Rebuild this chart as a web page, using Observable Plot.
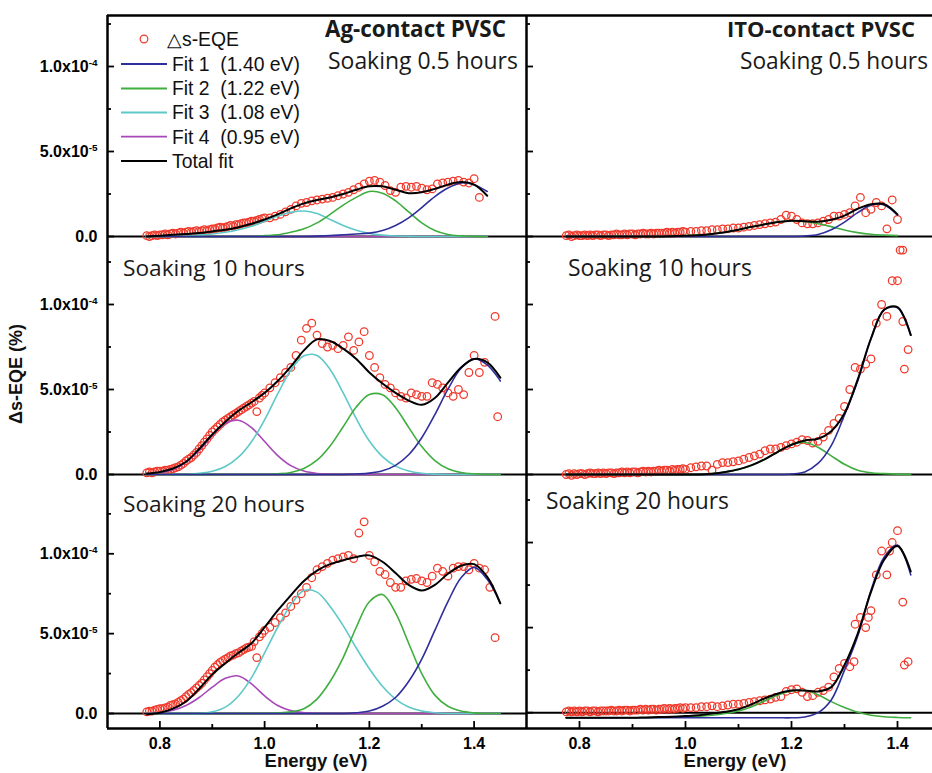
<!DOCTYPE html>
<html>
<head>
<meta charset="utf-8">
<script src="https://cdn.jsdelivr.net/npm/d3@7"></script>
<script src="https://cdn.jsdelivr.net/npm/@observablehq/plot@0.6"></script>
<style>
html, body { margin: 0; padding: 0; background: #fff; }
#chart { position: relative; width: 932px; height: 773px; overflow: hidden; background: #fff; }
#chart svg { position: absolute; overflow: visible; }
</style>
</head>
<body>
<div id="chart"></div>
<script>
// ---------------- DATA (values in units of 1e-6 %) ----------------
const UNIT = 1e-6;

// energy grid of the measured Δs-EQE points (eV)
const energies = [
  0.775,0.78,0.785,0.79,0.795,0.8,
  0.805,0.81,0.815,0.82,0.825,0.83,0.835,0.84,0.845,0.85,
  0.855,0.86,0.865,0.87,0.875,0.88,0.885,0.89,0.895,0.9,
  0.905,0.91,0.915,0.92,0.925,0.93,0.935,0.94,0.945,0.95,
  0.955,0.96,0.965,0.97,0.975,0.98,0.985,0.99,0.995,1.0,
  1.01,1.02,1.03,1.04,1.05,1.06,1.07,1.08,1.09,1.1,
  1.11,1.12,1.13,1.14,1.15,1.16,1.17,1.18,1.19,1.2,
  1.21,1.22,1.23,1.24,1.25,1.26,1.27,1.28,1.29,1.3,
  1.31,1.32,1.33,1.34,1.35,1.36,1.37,1.38,1.39,1.4,
  1.41,1.42,1.43,1.44,1.445
];

const agSoak05 = [
  0.5,0,0.5,1,0.5,1,
  1,1.5,1,1.5,2,1.5,2,2.5,2,2.5,
  3,2.5,3,3.5,3,3.5,4,3.5,4,4.5,
  4.5,5,5.5,5,5.5,6,6.5,6,7,7,
  7.5,8,8,8.5,9,9,9.5,10,10.5,11,
  11,12,13,14.5,16,18,19.5,20,21,21.5,
  22,22.5,23,24,25,26,27.5,29,31,32.5,
  33,32,30,27,26,29,29.5,29,29.5,28.5,
  27.5,28,31,31.5,32,32.5,33,32,31.5,34,
  23,null,null,null,null
];
const agSoak10 = [
  1,1.5,1,1.5,2,2,
  2,2.5,2.5,3,3.5,4,4.5,5.5,6.5,8,
  9,10,11.5,13,15,17,19,21,23,25,
  26.5,28,29.5,31,32,33,34,35,36,37,
  38,39,40,41,42,43,37,45,46.5,48,
  51,54,57,60,63,70,79,86,89,82,
  77,75,76,74,76,81,73,78,84,70,
  63,57,53,51,48,46,45,48,47,46,
  46,54,53,51,48,46,50,47,60,70,
  60,66,null,93,34
];
const agSoak20 = [
  1,1.5,1.5,2,2.5,3,
  3,3.5,4,5,5.5,6,7,8,9,10.5,
  12,13,14.5,16,17.5,19,21,23,25,27,
  29,30.5,32,33,34,35,36,36.5,37.5,38,
  39,40,41,41.5,42,45,35,48,50,52,
  54,57,60,63,67,71,75,79,85,90,
  92,94,96,97,98,99,97,113,120,99,
  95,89,87,82,79,79,83,84,84.5,83,
  82,86,91,89,86,91,92,92,90,94,
  91,90,79,47.5,null
];
const itoSoak05 = [
  0.5,1,0,0.5,1,0.5,
  0.5,1,0.5,1,0.5,1,1,0.5,1,1,
  0.5,1,1,1.5,1,1,1.5,1,1.5,1.5,
  1,1.5,1.5,2,1.5,1.5,2,1.5,2,2,
  2,2,2.5,2,2.5,2,2.5,2.5,3,2.5,
  3,3,3.5,3.5,4,4,4.5,4.5,5,5,
  5.5,6,6.5,7,7.5,8,8.5,10,12.5,12,
  10,8,7.5,7.5,8,9,10,12,12,13,
  14,18,23,14,16,20,18,4.5,21.5,10,
  -8,null,null,null,null
];
const itoSoak10 = [
  0,0.5,-0.5,0.5,0,0.5,
  0.5,0,0.5,1,0.5,0.5,1,0.5,1,0.5,
  1,1,0.5,1,1,1.5,1,1.5,1,1.5,
  1.5,1,1.5,2,1.5,2,1.5,2,2,2.5,
  2,2.5,2.5,2,3,2.5,3,3,3.5,3,
  4,4.5,5,5,2.5,6,7,7,7.5,8,
  9,10,11,12,14,15,15,16,17,18,
  19,20.5,20,18.5,19.5,22,26,30,33,40,
  50,63,62,65,68,89,100,93,114,114,
  90,73.5,null,null,null
];
const itoSoak20 = [
  0.5,1,0.5,1,0.5,1,
  0.5,1,1,0.5,1,1,0.5,1,1,1,
  1,1.5,1,1,1.5,1,1.5,1.5,1,1.5,
  1.5,1.5,2,1.5,2,1.5,2,2,1.5,2,
  2,2.5,2,2.5,2,2.5,2.5,3,2.5,3,
  3,3,3.5,3.5,4,3.5,4,4.5,5,5,
  5.5,6,6.5,7,7.5,8,9,9.5,12.5,13.5,
  14,12,9.5,10,12,13,15,21,26,29,
  27,52,56,50,60,81,95,81,100,107,
  65,30,null,null,null
];
// extra scattered points [energy, value]
const itoSoak10Extra = [[1.405,132],[1.413,62]];
const itoSoak20Extra = [[1.318,30],[1.345,56],[1.385,95],[1.413,28]];

// energy grid of the fitted curves (eV)
const fitEnergies = [0.775,0.8,0.825,0.85,0.875,0.9,0.925,0.95,0.975,1.0,
  1.025,1.05,1.075,1.1,1.125,1.15,1.175,1.2,1.225,1.25,
  1.275,1.3,1.325,1.35,1.375,1.4,1.425,1.45];

const ag05Fit1 = [0,0,0,0,0,0,0,0,0,0, 0,0,0,0.2,0.5,1,1.5,2,3.5,6.5, 11,17,23.5,28.5,31.5,30.5,26.5,null];
const ag05Fit2 = [0,0,0,0,0,0,0,0,0,0.5, 1,2.5,4.5,8,13,18.5,23,26.5,25.5,21, 14.5,8,3.5,1.2,0.4,0.1,0,null];
const ag05Fit3 = [0,0,0.1,0.3,0.8,1.5,2.5,4,6,9, 12,14.2,15,13.5,10,6.5,3.7,1.8,0.8,0.3, 0.1,0,0,0,0,0,0,null];
const ag05Fit4 = [0,0,0,0,0,0,0,0,0,0, 0,0,0,0,0,0,0,0,0,0, 0,0,0,0,0,0,0,null];
const ag05Total = [0,0.5,1,1.5,2,3,4,5.5,7.5,10, 13,16.5,19.5,21.5,23,25,27.5,29.5,29.5,27.5, 25.5,26,28,30.5,32,30.5,24,null];

const ag10Fit1 = [0,0,0,0,0,0,0,0,0,0, 0,0,0,0,0,0,0.3,0.8,2.2,5.4, 11.6,21.6,35.2,50.2,62.5,68,64.5,55];
const ag10Fit2 = [0,0,0,0,0,0,0,0,0,0, 0.4,1.2,3.5,8.4,16.8,28.1,39.7,47,46.9,39.3, 27.7,16.4,8.2,3.4,1.2,0.4,0.1,0];
const ag10Fit3 = [0,0,0,0,0.7,1.9,4.7,10.2,19.3,32.2, 47.4,61.3,69.8,70,61.8,48,32.8,19.7,10.5,4.9, 2,0.7,0.2,0,0,0,0,0];
const ag10Fit4 = [0.3,1,3,7.2,14.2,22.9,30,31.9,27.6,19.4, 11.1,5.2,2,0.6,0.15,0,0,0,0,0, 0,0,0,0,0,0,0,0];
const ag10Total = [0.6,1.5,3.5,7.5,15,23.5,31,37.5,42.5,48, 55,63.5,73,79.5,78.5,74,68,60,53.5,48, 43.5,41,45,54,63,68,66,57];

const ag20Fit1 = [0,0,0,0,0,0,0,0,0,0, 0,0,0,0,0,0,0.5,1.5,4.5,10, 20,34,52,70,85,91.5,84,69];
const ag20Fit2 = [0,0,0,0,0,0,0,0,0,0, 0.3,1,3,9,20,35,54,70,74.5,63, 44,25,11.5,4.5,1.5,0.4,0,0];
const ag20Fit3 = [0,0,0,0,0,1,4,11,22.5,38, 54,68,77,76,67,55,41,28,17,9, 4,1.5,0.5,0,0,0,0,0];
const ag20Fit4 = [0,0.5,2,5,10,16.5,22,23.5,18.5,11, 5,1.8,0.5,0,0,0,0,0,0,0, 0,0,0,0,0,0,0,0];
const ag20Total = [-0.5,0.5,3,7.5,15.5,24.5,31.5,38,44,54, 64.5,74,83,89.5,93.5,96,98,99,95,88, 80.5,77,80.5,87.5,92.5,93.5,85.5,69];

const ito05Fit1 = [0,0,0,0,0,0,0,0,0,0, 0,0,0,0,0,0,0,0,0.3,1.2, 4,8.5,14,18.5,18.5,12.5,null,null];
const ito05Fit2 = [0,0,0,0,0,0,0,0,0.2,0.4, 0.8,1.5,2.5,4,5.7,7.2,8.5,9.2,8.8,7.5, 5.8,3.8,2.3,1.3,0.8,0.5,null,null];
const ito05Total = [0,0,0,0,0,0,0,0,0.2,0.4, 0.8,1.5,2.5,4,5.7,7.2,8.5,9.2,9,8.7, 9.8,12.3,16.3,19,19,13,null,null];

const ito10Fit1 = [0,0,0,0,0,0,0,0,0,0, 0,0,0,0,0,0,0,0.3,1.5,6.5, 17,35,55,80,97,98,82,null];
const ito10Fit2 = [0,0,0,0,0,0,0,0,0,0, 0,0.5,1.5,3,5.5,9,13.5,17.5,19,16, 11,6,2.5,1,0.5,0.2,0.1,null];
const ito10Total = [0,0,0,0,0,0,0,0,0,0, 0,0.5,1.5,3,5.5,9,13.5,17.5,20,21, 25.5,36,56,80,97,98.5,82,null];

const ito20Fit1 = [-3,-3,-3,-3,-3,-3,-3,-3,-3,-3, -3,-3,-3,-3,-3,-3,-3,-3,-2.5,0, 7.5,25,45,72,91.5,98.5,81,null];
const ito20Fit2 = [-3,-3,-3,-3,-3,-3,-3,-2.8,-2.6,-2.5, -2,-1.5,-0.5,1,3.5,7,10.5,12.8,13,10.5, 6.5,3,0.2,-1.5,-2.4,-2.8,-3,null];
const ito20Total = [-3,-3,-3,-3,-3,-3,-2.8,-2.6,-2.4,-2, -1.5,-0.5,0.5,2,5,8.5,11.3,13,13,12.5, 15,28,46.5,71,90,98,83,null];

// text
const legendLabels = ["\u25B3s-EQE", "Fit 1  (1.40 eV)", "Fit 2  (1.22 eV)", "Fit 3  (1.08 eV)", "Fit 4  (0.95 eV)", "Total fit"];
const contactLabels = ["Ag-contact PVSC", "ITO-contact PVSC"];
const soakLabels = ["Soaking 0.5 hours", "Soaking 10 hours", "Soaking 20 hours"];
const yTicks = [0, 5e-5, 1e-4];
const yTickLabels = ["0.0", "5.0x10^-5", "1.0x10^-4"];
const yMinorTicks = [2.5e-5, 7.5e-5, 1.25e-4];
const xTicks = [0.8, 1.0, 1.2, 1.4];
const xTickLabels = ["0.8", "1.0", "1.2", "1.4"];
const xMinorTicks = [0.9, 1.1, 1.3];
const yTitle = "\u0394s-EQE (%)";
const xTitle = "Energy (eV)";

// colours
const pointColor = "#f0392b";
const fitColors = ["#2e2e9c", "#3fae3f", "#5fc8c8", "#a748b8"]; // Fit1..Fit4
const totalColor = "#000000";

// ---------------- LAYOUT ----------------
const colX = [107, 526], colW = [419, 424];
const rowY = [15, 253, 491], rowH = [238, 238, 237];
const xDomain = [0.7, 1.5];
const yDomains = [
  [[-1e-5, 1.3e-4], [-1e-5, 1.3e-4]],
  [[-1e-5, 1.3e-4], [-1e-5, 1.3e-4]],
  [[-0.94e-5, 1.39e-4], [-0.93e-5, 1.3e-4]]
];

const panels = [
  {row: 0, col: 0, pts: agSoak05, extra: [], fits: [ag05Fit1, ag05Fit2, ag05Fit3, ag05Fit4], total: ag05Total},
  {row: 0, col: 1, pts: itoSoak05, extra: [], fits: [ito05Fit1, ito05Fit2], total: ito05Total},
  {row: 1, col: 0, pts: agSoak10, extra: [], fits: [ag10Fit1, ag10Fit2, ag10Fit3, ag10Fit4], total: ag10Total},
  {row: 1, col: 1, pts: itoSoak10, extra: itoSoak10Extra, fits: [ito10Fit1, ito10Fit2], total: ito10Total},
  {row: 2, col: 0, pts: agSoak20, extra: [], fits: [ag20Fit1, ag20Fit2, ag20Fit3, ag20Fit4], total: ag20Total},
  {row: 2, col: 1, pts: itoSoak20, extra: itoSoak20Extra, fits: [ito20Fit1, ito20Fit2], total: ito20Total}
];

const chart = document.getElementById("chart");
const axisFont = "'Liberation Sans', Arial, sans-serif";

function curve(arr) {
  return fitEnergies.map((e, i) => ({e, v: arr[i] == null ? null : arr[i] * UNIT})).filter(d => d.v != null);
}

for (const p of panels) {
  const yDom = yDomains[p.row][p.col];
  const pts = energies.map((e, i) => ({e, v: p.pts[i] == null ? null : p.pts[i] * UNIT})).filter(d => d.v != null);
  for (const [e, v] of p.extra) pts.push({e, v: v * UNIT});

  const marks = [
    Plot.ruleY([0], {stroke: "#000", strokeWidth: 2}),
    Plot.dot(pts, {x: "e", y: "v", r: 3.8, stroke: pointColor, strokeWidth: 1.25, fill: "none"})
  ];
  for (let k = p.fits.length - 1; k >= 0; k--) {
    marks.push(Plot.line(curve(p.fits[k]), {x: "e", y: "v", stroke: fitColors[k], strokeWidth: 1.6, curve: "catmull-rom"}));
  }
  marks.push(Plot.line(curve(p.total), {x: "e", y: "v", stroke: totalColor, strokeWidth: 2, curve: "catmull-rom"}));
  marks.push(Plot.ruleX([xDomain[0]], {stroke: "#000", strokeWidth: 2.5}));
  if (p.row === 0) marks.push(Plot.ruleY([yDom[1]], {stroke: "#000", strokeWidth: 2.5}));
  if (p.row === 2) marks.push(Plot.ruleY([yDom[0]], {stroke: "#000", strokeWidth: 2.5}));
  marks.push(Plot.axisY(yTicks, {anchor: "left", tickSize: -7, strokeWidth: 1.8, fill: "none", label: null, tickFormat: () => ""}));
  marks.push(Plot.axisY(yMinorTicks, {anchor: "left", tickSize: -4, strokeWidth: 1.8, fill: "none", label: null, tickFormat: () => ""}));
  if (p.col === 0) {
    marks.push(Plot.axisY(yTicks, {anchor: "left", tickSize: 0, tickPadding: 10, label: null,
      tickFormat: d => yTickLabels[yTicks.indexOf(d)], fontSize: 16, fontWeight: "bold", fontFamily: axisFont}));
  }
  if (p.row === 2) {
    marks.push(Plot.axisX(xTicks, {anchor: "bottom", tickSize: -7, strokeWidth: 1.8, fill: "none", label: null, tickFormat: () => ""}));
    marks.push(Plot.axisX(xMinorTicks, {anchor: "bottom", tickSize: -4, strokeWidth: 1.8, fill: "none", label: null, tickFormat: () => ""}));
    marks.push(Plot.axisX(xTicks, {anchor: "bottom", tickSize: 0, tickPadding: 9, label: null,
      tickFormat: d => xTickLabels[xTicks.indexOf(d)], fontSize: 16, fontWeight: "bold", fontFamily: axisFont}));
  }

  const svg = Plot.plot({
    width: colW[p.col],
    height: rowH[p.row],
    margin: 0,
    style: {overflow: "visible", background: "none", fontFamily: axisFont},
    x: {domain: xDomain, axis: null},
    y: {domain: yDom, axis: null},
    marks
  });
  svg.style.left = colX[p.col] + "px";
  svg.style.top = rowY[p.row] + "px";
  svg.querySelectorAll("text").forEach(t => {
    const s = t.textContent;
    if (s.includes("^")) {
      const [base, ex] = s.split("^");
      t.textContent = base;
      const ts = document.createElementNS("http://www.w3.org/2000/svg", "tspan");
      ts.setAttribute("dy", "-0.6em");
      ts.setAttribute("font-size", "0.62em");
      ts.textContent = ex;
      t.appendChild(ts);
    }
  });
  chart.appendChild(svg);
}

// ---------------- TEXT OVERLAY (legend, panel labels, titles) ----------------
const ov = d3.create("svg").attr("width", 932).attr("height", 773)
  .style("left", "0px").style("top", "0px").style("pointer-events", "none");
chart.appendChild(ov.node());

// scale a text's font size so it spans the wanted width
function fitWidth(sel, wanted) {
  const node = sel.node();
  const fs = parseFloat(sel.attr("font-size"));
  const w = node.getComputedTextLength();
  if (w > 0) sel.attr("font-size", (fs * wanted / w).toFixed(2));
}

// legend
const legRowsY = [39, 64, 88.5, 112.5, 136.6, 161];
const leg = ov.append("g").attr("fill", "#111");
leg.append("circle").attr("cx", 144).attr("cy", legRowsY[0]).attr("r", 3.8)
  .attr("fill", "none").attr("stroke", pointColor).attr("stroke-width", 1.25);
const legLineColors = [fitColors[0], fitColors[1], fitColors[2], fitColors[3], totalColor];
legLineColors.forEach((c, i) => {
  leg.append("line").attr("x1", 121).attr("x2", 167).attr("y1", legRowsY[i + 1]).attr("y2", legRowsY[i + 1])
    .attr("stroke", c).attr("stroke-width", 1.8);
});
const probe = leg.append("text").attr("font-family", axisFont).attr("font-size", 16)
  .style("white-space", "pre").text(legendLabels[1]);
fitWidth(probe, 128);
const legSize = probe.attr("font-size");
probe.remove();
legendLabels.forEach((t, i) => {
  leg.append("text").attr("x", i === 0 ? 167 : 172).attr("y", legRowsY[i]).attr("dy", "0.36em")
    .attr("font-family", axisFont).attr("font-size", legSize)
    .style("white-space", "pre").text(t);
});

// panel labels
const labelFont = "'Open Sans', Lato, sans-serif";
const panelText = [
  {t: contactLabels[0], x: 325, y: 37, w: 181, bold: true},
  {t: contactLabels[1], x: 727, y: 37, w: 188, bold: true},
  {t: soakLabels[0], x: 328, y: 69, w: 190},
  {t: soakLabels[0], x: 740, y: 69, w: 188},
  {t: soakLabels[1], x: 123, y: 276, w: 182},
  {t: soakLabels[1], x: 568, y: 276, w: 184},
  {t: soakLabels[2], x: 123, y: 512, w: 182},
  {t: soakLabels[2], x: 546, y: 509, w: 183}
];
for (const d of panelText) {
  const s = ov.append("text").attr("x", d.x).attr("y", d.y)
    .attr("font-family", labelFont).attr("font-size", 20)
    .attr("font-weight", d.bold ? "bold" : "normal").attr("fill", "#1a1a1a").text(d.t);
  fitWidth(s, d.w);
}

// axis titles
ov.append("text").attr("transform", "translate(22,374) rotate(-90)").attr("text-anchor", "middle")
  .attr("font-family", axisFont).attr("font-size", 18).attr("font-weight", "bold").attr("fill", "#111").text(yTitle);
[316, 735].forEach(cx => {
  ov.append("text").attr("x", cx).attr("y", 767).attr("text-anchor", "middle")
    .attr("font-family", axisFont).attr("font-size", 18.5).attr("font-weight", "bold").attr("fill", "#111").text(xTitle);
});
</script>
</body>
</html>
